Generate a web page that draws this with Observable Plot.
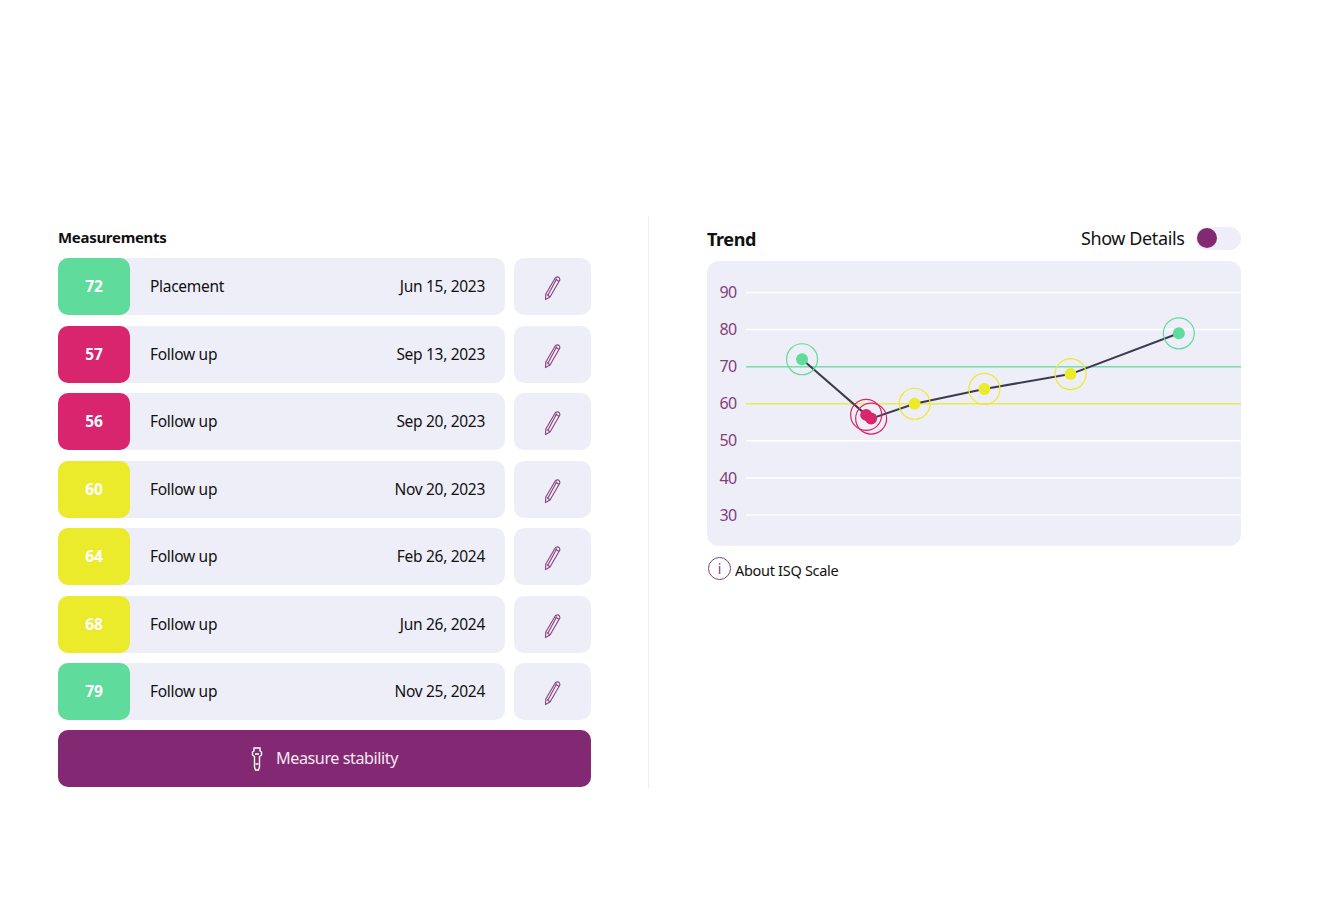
<!DOCTYPE html>
<html>
<head>
<meta charset="utf-8">
<script src="https://cdn.jsdelivr.net/npm/d3@7"></script>
<script src="https://cdn.jsdelivr.net/npm/@observablehq/plot@0.6"></script>
<style>
	body { margin: 0; background: #fff; font-family: "Noto Sans", sans-serif; color: #111; }
	#page { position: relative; width: 1320px; height: 921px; overflow: hidden; }
	#page > div, #rows > div { position: absolute; white-space: nowrap; }
	#rows { left: 0; top: 0; width: 1320px; height: 921px; }
	.rowbg { left: 58px; width: 447px; height: 57px; background: #eeeef8; border-radius: 10px; }
	.badge { left: 58px; width: 72px; height: 57px; border-radius: 10px; color: #fff; font-weight: 700; font-size: 15.5px; line-height: 57px; text-align: center; }
	.type { left: 150px; font-size: 15.5px; line-height: 57px; letter-spacing: -0.3px; }
	.date { left: 365px; width: 120px; text-align: right; font-size: 15.5px; line-height: 57px; letter-spacing: -0.3px; }
	.edit { left: 514px; width: 77px; height: 57px; background: #eeeef8; border-radius: 10px; }
	.edit svg { position: absolute; left: 26px; top: 17px; }
</style>
</head>
<body>
<div id="page">
	<div style="left:58px;top:227px;font-size:15px;font-weight:700;letter-spacing:-0.3px;">Measurements</div>
	<div id="rows"></div>
	<div style="left:58px;top:730px;width:533px;height:57px;background:#832872;border-radius:10px;"></div>
	<div style="left:249px;top:746px;">
		<svg width="16" height="26" viewBox="0 0 16 26" fill="none" stroke="#fff" stroke-width="1.4">
			<path d="M5 2h6v3l1.500 1v3l-2 1.500V21l-1 3h-3l-1-3V10.500l-2-1.500V6L5 5z"/>
			<path d="M6 8h4M6.500 18h3"/>
		</svg>
	</div>
	<div style="left:276px;top:747px;font-size:16.2px;color:#f6e9f3;letter-spacing:-0.45px;">Measure stability</div>

	<div style="left:648px;top:216px;width:1px;height:572px;background:#eeeeee;"></div>

	<div style="left:707px;top:227px;font-size:18px;font-weight:700;letter-spacing:-0.4px;">Trend</div>
	<div style="left:1081px;top:226px;font-size:18px;letter-spacing:-0.4px;">Show Details</div>
	<div style="left:1196px;top:227px;width:45px;height:23px;background:#eeeef8;border-radius:12px;"></div>
	<div style="left:1197px;top:228px;width:20px;height:20px;background:#832872;border-radius:50%;"></div>

	<div style="left:707px;top:261px;width:534px;height:285px;background:#eeeef8;border-radius:12px;"></div>
	<div id="graph" style="left:707px;top:261px;"></div>

	<div style="left:708px;top:557px;width:21px;height:21px;border:1.3px solid #83407a;border-radius:50%;color:#83407a;font-size:14px;line-height:21px;text-align:center;">i</div>
	<div style="left:735px;top:560px;font-size:14.5px;letter-spacing:-0.3px;">About ISQ Scale</div>
</div>
<script>
const fechas = ["Jun 15, 2023", "Sep 13, 2023", "Sep 20, 2023", "Nov 20, 2023", "Feb 26, 2024", "Jun 26, 2024", "Nov 25, 2024"];
const tipos = ["Placement", "Follow up", "Follow up", "Follow up", "Follow up", "Follow up", "Follow up"];
const isq = [72, 57, 56, 60, 64, 68, 79];
const yTicks = [30, 40, 50, 60, 70, 80, 90];
const xDomain = ["2023-03-29", "2025-02-21"];
const umbrales = [60, 70];
const colores = ["#d9246e", "#ebeb2c", "#5fdb9b"];

const parseFecha = d3.timeParse("%b %d, %Y");
const data = fechas.map((f, i) => ({fecha: parseFecha(f), isq: isq[i]}));

function colorDe(v) {
	return v < umbrales[0] ? colores[0] : v < umbrales[1] ? colores[1] : colores[2];
}

//  ---------------------------------- LISTA ------------------------------
const lapiz = `<svg width="24" height="26" viewBox="0 0 24 26" fill="none" stroke="#8f4a85" stroke-width="1.2" stroke-linejoin="round">
	<path d="M15.500 2.500 Q18 1 19.500 3 Q20.500 5 19 6.500 L10 22 L5.500 24.500 L5.800 19 Z"/>
	<path d="M8 20 L16.800 3.500 M10 22 L7 19.500 M19 6.500 L15.500 4"/>
</svg>`;

const rows = d3.select("#rows");
isq.forEach((v, i) => {
	const top = 258 + i * 67.5;
	rows.append("div").attr("class", "rowbg").style("top", top + "px");
	rows.append("div").attr("class", "badge").style("top", top + "px").style("background", colorDe(v)).text(v);
	rows.append("div").attr("class", "type").style("top", top + "px").text(tipos[i]);
	rows.append("div").attr("class", "date").style("top", top + "px").text(fechas[i]);
	rows.append("div").attr("class", "edit").style("top", top + "px").html(lapiz);
});

//  ---------------------------------- TREND ------------------------------
const chart = Plot.plot({
	width: 534,
	height: 285,
	marginTop: 31,
	marginBottom: 31.5,
	marginLeft: 39,
	marginRight: 0,
	style: {background: "transparent", fontFamily: "Noto Sans", letterSpacing: "-0.6px"},
	x: {type: "time", domain: xDomain.map(d => new Date(d)), axis: null},
	y: {domain: [30, 90], ticks: yTicks, label: null},
	color: {type: "threshold", domain: umbrales, range: colores},
	marks: [
		Plot.ruleY(yTicks.filter(d => !umbrales.includes(d)), {stroke: "#fff", strokeWidth: 1.5}),
		Plot.ruleY([umbrales[1]], {stroke: colores[2], strokeWidth: 1.5, strokeOpacity: 0.85}),
		Plot.ruleY([umbrales[0]], {stroke: colores[1], strokeWidth: 1.6, strokeOpacity: 0.85}),
		Plot.axisY({ticks: yTicks, tickSize: 0, tickPadding: 10, color: "#83407a", label: null, fontSize: 16, dy: 0.5}),
		Plot.line(data, {x: "fecha", y: "isq", stroke: "#3d3a50", strokeWidth: 2}),
		Plot.dot(data, {x: "fecha", y: "isq", r: 15.5, stroke: "isq", strokeWidth: 1.2, fill: "none"}),
		Plot.dot(data, {x: "fecha", y: "isq", r: 6, fill: "isq"})
	]
});

d3.select("#graph").append(() => chart);
</script>
</body>
</html>
